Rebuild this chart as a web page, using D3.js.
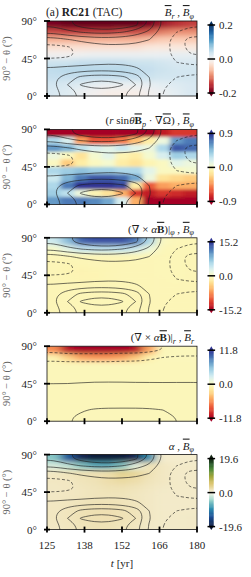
<!DOCTYPE html>
<html>
<head>
<meta charset="utf-8">
<script src="https://cdn.jsdelivr.net/npm/d3@7"></script>
<style>
body { margin: 0; background: #fff; }
svg { display: block; font-family: "Liberation Serif", "DejaVu Serif", serif; }
</style>
</head>
<body>
<svg id="fig" width="251" height="577"></svg>
<script>
const svg = d3.select("#fig"); // main figure

// time axis (yr) and its tick labels
const tStart = 125, tEnd = 180;
const tickVals = [125, 138.75, 152.5, 166.25, 180];
const tickLabels = ["125", "138", "152", "166", "180"];
const latTicks = [0, 45, 90];
const latLabels = ["0°", "45°", "90°"];

// grids: 11 columns of 5 yr, 10 rows of 9 deg, rows listed from 90° down to 0°
const nCols = 11, nRows = 10;

// mean radial field  Br
const brGrid = [
  [-0.19, -0.2, -0.2, -0.2, -0.2, -0.2, -0.2, -0.19, -0.17, -0.15, -0.14],
  [-0.13, -0.14, -0.14, -0.14, -0.14, -0.13, -0.13, -0.12, -0.1, -0.09, -0.09],
  [-0.07, -0.07, -0.07, -0.07, -0.07, -0.07, -0.07, -0.06, -0.05, -0.05, -0.05],
  [-0.03, -0.03, -0.03, -0.03, -0.03, -0.03, -0.03, -0.02, -0.02, -0.02, -0.02],
  [0.0, 0.0, 0.005, 0.01, 0.01, 0.01, 0.01, 0.01, 0.012, 0.015, 0.015],
  [0.04, 0.04, 0.045, 0.045, 0.045, 0.045, 0.04, 0.04, 0.035, 0.03, 0.03],
  [0.05, 0.055, 0.055, 0.055, 0.055, 0.055, 0.05, 0.045, 0.04, 0.035, 0.035],
  [0.045, 0.045, 0.045, 0.045, 0.045, 0.045, 0.045, 0.04, 0.035, 0.035, 0.035],
  [0.035, 0.03, 0.025, 0.015, 0.012, 0.012, 0.012, 0.015, 0.02, 0.025, 0.03],
  [0.03, 0.025, 0.01, 0.0, -0.01, -0.01, -0.01, 0.0, 0.01, 0.02, 0.03]
];

// mean toroidal field  Bphi (contours)
const bphiGrid = [
  [0.55, 0.65, 0.8, 0.9, 0.95, 0.9, 0.75, 0.45, 0.05, -0.05, -0.08],
  [0.35, 0.45, 0.5, 0.55, 0.55, 0.5, 0.4, 0.25, 0.0, -0.1, -0.15],
  [0.0, 0.08, 0.15, 0.18, 0.2, 0.18, 0.15, 0.1, -0.05, -0.15, -0.2],
  [-0.15, -0.12, -0.05, 0.02, 0.05, 0.05, 0.05, 0.0, -0.05, -0.15, -0.2],
  [-0.17, -0.14, -0.06, 0.0, 0.02, 0.03, 0.02, 0.0, -0.05, -0.14, -0.18],
  [-0.02, -0.02, 0.0, 0.03, 0.05, 0.05, 0.03, 0.0, -0.04, -0.1, -0.12],
  [0.15, 0.2, 0.22, 0.25, 0.25, 0.22, 0.15, 0.02, -0.04, -0.06, -0.06],
  [0.25, 0.4, 0.55, 0.6, 0.6, 0.55, 0.42, 0.1, -0.05, -0.1, -0.12],
  [0.28, 0.5, 0.72, 0.8, 0.8, 0.72, 0.5, 0.12, -0.08, -0.14, -0.15],
  [0.22, 0.4, 0.55, 0.6, 0.6, 0.55, 0.38, 0.08, -0.1, -0.15, -0.16]
];

// omega effect  (r sin theta Bp . grad Omega)
const omegaGrid = [
  [-0.9, -0.9, -0.9, -0.9, -0.9, -0.9, -0.9, -0.9, -0.8, -0.7, -0.7],
  [0.35, 0.2, -0.4, -0.6, -0.6, -0.5, -0.3, -0.1, 0.1, 0.6, 0.7],
  [0.6, 0.5, 0.3, 0.2, 0.15, 0.25, 0.15, 0.1, 0.35, 0.8, 0.75],
  [0.1, 0.0, -0.15, 0.05, 0.15, -0.05, -0.1, 0.05, 0.2, 0.4, 0.35],
  [0.0, -0.25, -0.1, 0.0, 0.05, -0.1, -0.15, -0.05, 0.0, 0.15, 0.1],
  [0.35, 0.4, 0.45, 0.4, 0.4, 0.35, 0.35, 0.15, 0.0, 0.0, 0.05],
  [0.25, 0.5, 0.7, 0.8, 0.8, 0.75, 0.55, 0.1, -0.15, -0.2, -0.25],
  [0.35, 0.7, 0.9, 0.9, 0.9, 0.85, -0.1, -0.6, -0.4, -0.35, -0.35],
  [0.4, 0.3, 0.1, -0.05, -0.15, -0.35, -0.7, -0.8, -0.7, -0.75, -0.8],
  [0.6, 0.7, 0.7, 0.65, 0.55, 0.2, -0.35, -0.9, -0.9, -0.9, -0.9]
];

// alpha effect, phi component
const alphaPhiGrid = [
  [4, 8, 13, 14, 14, 14, 12, 6, 0, -0.5, -0.5],
  [0.5, 2.5, 4.5, 5, 5, 5, 4, 1.5, -0.5, -0.5, -0.5],
  [-0.6, -0.6, -0.5, -0.6, -0.6, -0.6, -0.5, -0.6, -0.6, -0.5, -0.6],
  [-0.6, -0.7, -0.7, -0.6, -0.6, -0.7, -0.6, -0.6, -0.5, -0.5, -0.6],
  [-0.6, -0.8, -0.9, -0.8, -0.7, -0.6, -0.6, -0.6, -0.5, -0.5, -0.6],
  [-0.6, -0.7, -0.8, -0.8, -0.7, -0.6, -0.6, -0.6, -0.6, -0.5, -0.6],
  [-0.6, -0.6, -0.6, -0.6, -0.6, -0.6, -0.6, -0.6, -0.6, -0.6, -0.6],
  [-0.6, -0.6, -0.5, -0.5, -0.5, -0.6, -0.6, -0.6, -0.6, -0.6, -0.6],
  [-0.6, -0.6, -0.5, -0.5, -0.5, -0.5, -0.6, -0.6, -0.6, -0.6, -0.6],
  [-0.6, -0.6, -0.6, -0.6, -0.6, -0.6, -0.6, -0.6, -0.6, -0.6, -0.6]
];

// alpha effect, r component
const alphaRGrid = [
  [-6, -11, -11.8, -11.8, -11.8, -11.8, -11, -5, -0.3, -0.2, -0.2],
  [-0.8, -3, -5, -5.5, -5.5, -5, -3.5, -1, -0.2, -0.2, -0.2],
  [-0.3, -0.3, -0.3, -0.3, -0.3, -0.3, -0.3, -0.3, -0.3, -0.3, -0.3],
  [-0.3, -0.3, -0.3, -0.3, -0.3, -0.3, -0.3, -0.3, -0.3, -0.3, -0.3],
  [-0.3, -0.3, -0.3, -0.3, -0.3, -0.3, -0.3, -0.3, -0.3, -0.3, -0.3],
  [-0.3, -0.3, -0.3, -0.3, -0.3, -0.3, -0.3, -0.3, -0.3, -0.3, -0.3],
  [-0.3, -0.3, -0.3, -0.3, -0.3, -0.3, -0.3, -0.3, -0.3, -0.3, -0.3],
  [-0.3, -0.3, -0.3, -0.3, -0.3, -0.3, -0.3, -0.3, -0.3, -0.3, -0.3],
  [-0.3, -0.3, -0.3, -0.3, -0.3, -0.3, -0.3, -0.3, -0.3, -0.3, -0.3],
  [-0.3, -0.3, -0.3, -0.3, -0.3, -0.3, -0.3, -0.3, -0.3, -0.3, -0.3]
];

// alpha
const alphaGrid = [
  [-5, -13, -18, -19.6, -19.6, -19.6, -18, -9, 1, 1, 1],
  [-1.5, -2.5, -5, -7, -7, -5, -1, 2, 1.5, 1.2, 1.2],
  [1.5, 1.8, 2, 2.2, 2.5, 4, 3.5, 2, 1.5, 1.2, 1.2],
  [1.5, 1.5, 1.8, 2, 2.5, 3, 2.5, 1.8, 1.5, 1.2, 1.2],
  [1.4, 1.5, 1.6, 1.8, 2, 2, 1.8, 1.5, 1.3, 1.2, 1.2],
  [1.4, 1.5, 1.6, 1.8, 1.8, 1.8, 1.6, 1.4, 1.2, 1.2, 1.2],
  [1.5, 1.6, 1.8, 2, 2, 1.9, 1.7, 1.4, 1.2, 1.2, 1.2],
  [1.5, 1.7, 2, 2.2, 2.2, 2, 1.8, 1.4, 1.2, 1.2, 1.2],
  [1.5, 1.7, 2, 2.2, 2.2, 2, 1.8, 1.4, 1.2, 1.2, 1.3],
  [1.4, 1.6, 1.8, 2, 2, 1.8, 1.6, 1.3, 1.2, 1.2, 1.3]
];

// colour bar limits and labels
const cbMax = [0.2, 0.9, 15.2, 11.8, 19.6];
const cbLabels = [
  ["0.2", "0.0", "-0.2"],
  ["0.9", "0.0", "-0.9"],
  ["15.2", "0.0", "-15.2"],
  ["11.8", "0.0", "-11.8"],
  ["19.6", "0.0", "-19.6"]
];

// contour levels
const bphiLevels = [-0.18, -0.1, 0.1, 0.3, 0.5, 0.7];
const brLevels = [-0.17, -0.1, 0.02];

// a "delta"-like diverging map for alpha
const deltaStops = [-1, -0.7, -0.45, -0.2, 0, 0.12, 0.3, 0.5, 0.7, 0.85, 1];
const deltaColors = ["#111a3a", "#1c4f96", "#2f8fb0", "#9ed6cc", "#f8f6e6", "#eedfae",
  "#d8c26a", "#9da43a", "#4f8a3a", "#2a5a2a", "#142414"];
const deltaScale = d3.scaleLinear().domain(deltaStops).range(deltaColors).clamp(true);

// title pieces: [text, flags]  i=italic b=bold o=overline s=subscript
const titlesLeft = [[["(a) ", ""], ["RC21", "b"], [" (TAC)", ""]], null, null, null, null];
const titlesRight = [
  [["B", "io"], ["r", "is"], [" , ", ""], ["B", "io"], ["φ", "is"]],
  [["(", ""], ["r", "i"], [" sin", ""], ["θ", "i"], ["B", "bo"], ["p", "is"], [" · ∇", ""], ["Ω", "o"], [") , ", ""], ["B", "io"], ["φ", "is"]],
  [["(∇ × ", ""], ["α", "i"], ["B", "bo"], [")|", ""], ["φ", "is"], [" , ", ""], ["B", "io"], ["φ", "is"]],
  [["(∇ × ", ""], ["α", "i"], ["B", "bo"], [")|", ""], ["r", "is"], [" , ", ""], ["B", "io"], ["r", "is"]],
  [["α", "i"], [" , ", ""], ["B", "io"], ["φ", "is"]]
];

const panels = [
  { grid: brGrid, cmap: d3.interpolateRdBu, cont: bphiGrid, levels: bphiLevels, blur: "5 2.6" },
  { grid: omegaGrid, cmap: d3.interpolateRdYlBu, cont: bphiGrid, levels: bphiLevels, blur: "2.6 1.6" },
  { grid: alphaPhiGrid, cmap: d3.interpolateRdYlBu, cont: bphiGrid, levels: bphiLevels, blur: "5 2.6" },
  { grid: alphaRGrid, cmap: d3.interpolateRdYlBu, cont: brGrid, levels: brLevels, blur: "5 2.4" },
  { grid: alphaGrid, cmap: null, cont: bphiGrid, levels: bphiLevels, blur: "5 2.6" }
];

// layout
const left = 47, right = 197, plotH = 75;
const firstTop = 21, step = 108.4;
const cbX = 209, cbW = 4.6;

const defs = svg.append("defs");

// replicate the outer rows/cols so contours close outside the frame
const padGrid = (g) => {
  const rows = [g[0], ...g, g[g.length - 1]];
  return rows.map(row => [row[0], ...row, row[row.length - 1]]);
};

const addText = (sel, pieces) => {
  let sub = false;
  pieces.forEach(([txt, f]) => {
    const ts = sel.append("tspan").text(txt);
    if (f.includes("i")) ts.attr("font-style", "italic");
    if (f.includes("b")) ts.attr("font-weight", "bold");
    if (f.includes("o")) ts.style("text-decoration", "overline");
    if (f.includes("s")) {
      ts.attr("font-size", 8).attr("dy", sub ? 0 : 2.5);
      sub = true;
    } else if (sub) {
      ts.attr("dy", -2.5);
      sub = false;
    }
  });
};

panels.forEach((p, i) => {
  const top = firstTop + i * step, bottom = top + plotH;
  const x = d3.scaleLinear().domain([tStart, tEnd]).range([left, right]);
  const y = d3.scaleLinear().domain([0, 90]).range([bottom, top]);
  const max = cbMax[i];
  const color = p.cmap
    ? (v => p.cmap((v + max) / (2 * max)))
    : (v => deltaScale(v / max));

  // clip + blur
  defs.append("clipPath").attr("id", "clip" + i)
    .append("rect").attr("x", left).attr("y", top)
    .attr("width", right - left).attr("height", plotH);
  defs.append("filter").attr("id", "blur" + i)
    .attr("x", "-10%").attr("y", "-10%").attr("width", "120%").attr("height", "120%")
    .append("feGaussianBlur").attr("stdDeviation", p.blur);

  const clipped = svg.append("g").attr("clip-path", `url(#clip${i})`);
  const heat = clipped.append("g").attr("filter", `url(#blur${i})`);

  const dt = (tEnd - tStart) / nCols, dl = 90 / nRows, pad = 14;
  const cells = [];
  p.grid.forEach((row, r) => row.forEach((v, c) => {
    cells.push({ t0: tStart + c * dt, lat1: 90 - r * dl, r, c, v });
  }));

  heat.selectAll("rect")
    .data(cells)
    .enter()
    .append("rect")
    .attr("x", d => x(d.t0) - (d.c === 0 ? pad : 0))
    .attr("y", d => y(d.lat1) - (d.r === 0 ? pad : 0))
    .attr("width", d => x(d.t0 + dt) - x(d.t0) + 0.6 + (d.c === 0 || d.c === nCols - 1 ? pad : 0))
    .attr("height", d => y(d.lat1 - dl) - y(d.lat1) + 0.6 + (d.r === 0 || d.r === nRows - 1 ? pad : 0))
    .attr("fill", d => color(d.v));

  // contours
  const pg = padGrid(p.cont);
  const values = pg.flat();
  const contours = d3.contours().size([nCols + 2, nRows + 2]).thresholds(p.levels)(values);
  const gx = d3.scaleLinear().domain([1, nCols + 1]).range([x(tStart), x(tEnd)]);
  const gy = d3.scaleLinear().domain([1, nRows + 1]).range([y(90), y(0)]);
  const line = d3.line().x(d => gx(d[0])).y(d => gy(d[1])).curve(d3.curveBasisClosed);

  contours.forEach(cn => {
    cn.coordinates.forEach(poly => poly.forEach(ring => {
      clipped.append("path")
        .attr("d", line(ring.slice(0, -1)))
        .attr("fill", "none")
        .attr("stroke", "#1e1e1e")
        .attr("stroke-opacity", 0.85)
        .attr("stroke-width", 0.75)
        .attr("stroke-dasharray", cn.value < 0 ? "3,2" : null);
    }));
  });

  // frame
  svg.append("rect").attr("x", left).attr("y", top)
    .attr("width", right - left).attr("height", plotH)
    .attr("fill", "none").attr("stroke", "#111").attr("stroke-width", 0.8);

  // ticks
  svg.selectAll(null).data(tickVals).enter().append("line")
    .attr("x1", d => x(d)).attr("x2", d => x(d))
    .attr("y1", bottom - 3).attr("y2", bottom + 3)
    .attr("stroke", "#000").attr("stroke-width", 1.8);
  svg.selectAll(null).data(latTicks).enter().append("line")
    .attr("x1", left - 3).attr("x2", left + 3)
    .attr("y1", d => y(d)).attr("y2", d => y(d))
    .attr("stroke", "#000").attr("stroke-width", 1.8);
  svg.selectAll(null).data(latTicks).enter().append("text")
    .attr("x", left - 10).attr("y", d => y(d))
    .attr("text-anchor", "end").attr("dominant-baseline", "central")
    .attr("font-size", 11).attr("fill", "#222")
    .text((d, k) => latLabels[k]);

  // y label
  svg.append("text")
    .attr("transform", `translate(10,${(top + bottom) / 2}) rotate(-90)`)
    .attr("text-anchor", "middle").attr("font-size", 10.5).attr("fill", "#666")
    .text("90° − θ (°)");

  // titles
  if (titlesLeft[i]) {
    addText(svg.append("text").attr("x", left - 1).attr("y", top - 5)
      .attr("font-size", 11.5).attr("fill", "#222"), titlesLeft[i]);
  }
  addText(svg.append("text").attr("x", right - 3).attr("y", top - 5)
    .attr("text-anchor", "end").attr("font-size", 11).attr("fill", "#222"), titlesRight[i]);

  // colour bar
  const cy0 = top + 4, cy1 = bottom - 3;
  const cb = d3.scaleLinear().domain([-max, max]).range([cy1, cy0]);
  const nSteps = 60;
  const cbData = d3.range(nSteps).map(k => -max + (k + 0.5) * 2 * max / nSteps);
  svg.selectAll(null).data(cbData).enter().append("rect")
    .attr("x", cbX).attr("width", cbW)
    .attr("y", d => cb(d + max / nSteps))
    .attr("height", (cy1 - cy0) / nSteps + 0.5)
    .attr("fill", d => color(d));
  svg.append("path")
    .attr("d", `M${cbX},${cy0}L${cbX + cbW / 2},${top}L${cbX + cbW},${cy0}Z`)
    .attr("fill", color(max));
  svg.append("path")
    .attr("d", `M${cbX},${cy1}L${cbX + cbW / 2},${bottom + 0.5}L${cbX + cbW},${cy1}Z`)
    .attr("fill", color(-max));
  const cbTicks = [max, 0, -max];
  svg.selectAll(null).data(cbTicks).enter().append("line")
    .attr("x1", cbX - 1.5).attr("x2", cbX + cbW + 1.5)
    .attr("y1", d => cb(d)).attr("y2", d => cb(d))
    .attr("stroke", "#000").attr("stroke-width", 1.5);
  svg.selectAll(null).data(cbTicks).enter().append("text")
    .attr("x", 219).attr("y", d => cb(d))
    .attr("dominant-baseline", "central").attr("font-size", 11).attr("fill", "#222")
    .text((d, k) => cbLabels[i][k]);

  // x tick labels on the last panel only
  if (i === panels.length - 1) {
    svg.selectAll(null).data(tickVals).enter().append("text")
      .attr("x", d => x(d)).attr("y", bottom + 19)
      .attr("text-anchor", "middle").attr("font-size", 11).attr("fill", "#222")
      .text((d, k) => tickLabels[k]);
    const xl = svg.append("text").attr("x", (left + right) / 2).attr("y", bottom + 37)
      .attr("text-anchor", "middle").attr("font-size", 11).attr("fill", "#222");
    addText(xl, [["t", "i"], [" [yr]", ""]]);
  }
});
</script>
</body>
</html>
